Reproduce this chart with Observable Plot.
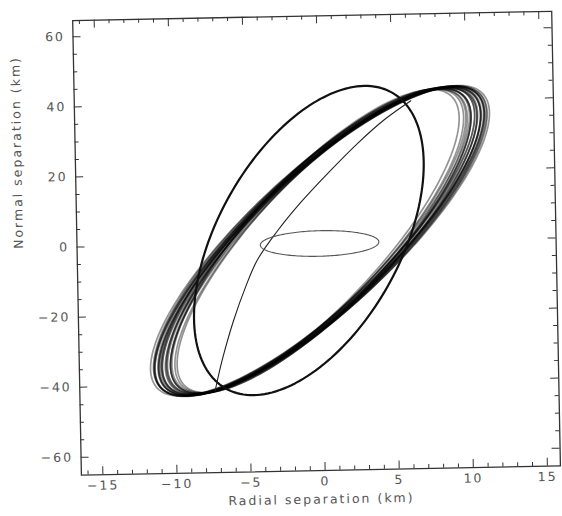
<!DOCTYPE html>
<html><head><meta charset="utf-8">
<script src="https://cdn.jsdelivr.net/npm/d3@7"></script>
<script src="https://cdn.jsdelivr.net/npm/@observablehq/plot@0.6"></script>
<style>
html,body{margin:0;padding:0;background:#fff;}
#chart{width:562px;height:516px;overflow:hidden;position:relative;}
#chart svg{display:block;transform-origin:316px 243px;transform:rotate(-1.1deg);}
#chart svg text{letter-spacing:2px;}
</style></head><body><div id="chart"></div>
<script>
// ---- axis ticks ----
const xMajorTicks = [-15, -10, -5, 0, 5, 10, 15];
const xMinorTicks = [-16, -14, -13, -12, -11, -9, -8, -7, -6, -4, -3, -2, -1, 1, 2, 3, 4, 6, 7, 8, 9, 11, 12, 13, 14];
const yMajorTicks = [-60, -40, -20, 0, 20, 40, 60];
const yMinorTicks = [-55, -50, -45, -35, -30, -25, -15, -10, -5, 5, 10, 15, 25, 30, 35, 45, 50, 55];

// ---- ribbon of repeated orbits ----
// radial amplitude (km), normal amplitude (km), phase (deg), radial centre (km)
const ribbonCenterY = 0.4;
const ribbonRadialAmp = [9.85, 9.95, 10.05, 10.15, 10.25, 10.3, 10.4, 10.5, 10.55, 10.65, 10.7, 10.8, 10.85, 10.95, 11.0, 11.05, 11.1, 11.15, 11.2, 11.25, 11.3, 11.35, 11.4, 11.45];
const ribbonNormalAmp = [42.6, 42.6, 42.7, 42.7, 42.8, 42.8, 42.9, 42.9, 43.0, 43.0, 43.1, 43.1, 43.2, 43.2, 43.3, 43.3, 43.3, 43.4, 43.4, 43.4, 43.5, 43.5, 43.5, 43.6];
const ribbonPhase = [36.0, 35.9, 35.9, 35.8, 35.8, 35.7, 35.6, 35.6, 35.5, 35.5, 35.4, 35.4, 35.3, 35.3, 35.3, 35.2, 35.2, 35.1, 35.1, 35.1, 35.0, 35.0, 35.0, 35.0];
const ribbonCenterX = [-0.35, 0.10, -0.25, 0.15, -0.30, 0.00, -0.10, 0.20, -0.35, 0.05, -0.15, 0.15, -0.30, 0.00, -0.05, 0.20, -0.35, 0.05, -0.20, 0.15, -0.10, 0.00, -0.25, 0.10];

// ---- large tilted orbit ----
const bigCenter = [-0.8, 0.6];
const bigRadialAmp = 7.85;
const bigNormalAmp = 43.8;
const bigPhase = 60;

// ---- small initial orbit ----
const smallCenter = [-0.08, -0.3];
const smallRadialAmp = 4.0;
const smallNormalAmp = 3.65;
const smallPhase = 88;

// ---- transfer arc ----
const arcX = [-7.31, -6.8, -6.0, -5.1, -4.32, -3.0, -1.3, 0.76, 2.6, 4.4, 6.26];
const arcY = [-41.6, -33.0, -22.0, -12.0, -4.8, 3.0, 11.5, 20.5, 28.0, 34.5, 39.9];

function orbit(cx, cy, A, B, phaseDeg, id) {
  const pts = [];
  const p = phaseDeg * Math.PI / 180;
  for (let k = 0; k <= 360; k += 2) {
    const t = k * Math.PI / 180;
    pts.push({id, x: cx + A * Math.cos(t), y: cy + B * Math.cos(t + p)});
  }
  return pts;
}

const ribbonPts = ribbonRadialAmp.flatMap((A, i) =>
  orbit(ribbonCenterX[i], ribbonCenterY, A, ribbonNormalAmp[i], ribbonPhase[i], "r" + i));
const bigPts = orbit(bigCenter[0], bigCenter[1], bigRadialAmp, bigNormalAmp, bigPhase, "big");
const smallPts = orbit(smallCenter[0], smallCenter[1], smallRadialAmp, smallNormalAmp, smallPhase, "small");
const arcPts = arcX.map((x, i) => ({x, y: arcY[i]}));

const W = 562, H = 516;
const mL = 76.5, mR = 6.4, mT = 15.4, mB = 45.9;
const pw = W - mL - mR, ph = H - mT - mB;
const fmt = d => d < 0 ? "\u2212" + (-d) : String(d);
const txt = "#555";
const font = "DejaVu Sans, sans-serif";

const chart = Plot.plot({
  width: W, height: H,
  marginLeft: mL, marginRight: mR, marginTop: mT, marginBottom: mB,
  style: {fontFamily: font, background: "#fff"},
  x: {domain: [-16.45, 15.88], axis: null},
  y: {domain: [-65.08, 64.65], axis: null},
  marks: [
    Plot.line(ribbonPts, {x: "x", y: "y", z: "id", stroke: "#000", strokeWidth: 1.7, strokeOpacity: 0.42}),
    Plot.line(bigPts, {x: "x", y: "y", stroke: "#111", strokeWidth: 2.2}),
    Plot.line(arcPts, {x: "x", y: "y", curve: "catmull-rom", stroke: "#222", strokeWidth: 1.1}),
    Plot.line(smallPts, {x: "x", y: "y", stroke: "#555", strokeWidth: 1.1}),
    Plot.frame({stroke: "#333", strokeWidth: 1.3}),
    Plot.tickX(xMajorTicks, {x: d => d, insetTop: ph - 8, stroke: "#333"}),
    Plot.tickX(xMinorTicks, {x: d => d, insetTop: ph - 4, stroke: "#333"}),
    Plot.tickX(xMajorTicks, {x: d => d, insetBottom: ph - 8, stroke: "#333"}),
    Plot.tickX(xMinorTicks, {x: d => d, insetBottom: ph - 4, stroke: "#333"}),
    Plot.tickY(yMajorTicks, {y: d => d, insetRight: pw - 8, stroke: "#333"}),
    Plot.tickY(yMinorTicks, {y: d => d, insetRight: pw - 4, stroke: "#333"}),
    Plot.tickY(yMajorTicks, {y: d => d, insetLeft: pw - 8, stroke: "#333"}),
    Plot.tickY(yMinorTicks, {y: d => d, insetLeft: pw - 4, stroke: "#333"}),
    Plot.axisX({ticks: xMajorTicks, tickSize: 0, tickPadding: 6, tickFormat: fmt, label: null, fontSize: 12.5, fill: txt}),
    Plot.axisY({ticks: yMajorTicks, tickSize: 0, tickPadding: 8, tickFormat: fmt, label: null, fontSize: 12.5, fill: txt}),
    Plot.text(["Radial separation (km)"], {frameAnchor: "bottom", dy: 33, fontSize: 12.5, fill: txt}),
    Plot.text(["Normal separation (km)"], {frameAnchor: "left", dx: -58, rotate: -90, fontSize: 12.5, fill: txt})
  ]
});
document.getElementById("chart").append(chart);
</script>
</body></html>
